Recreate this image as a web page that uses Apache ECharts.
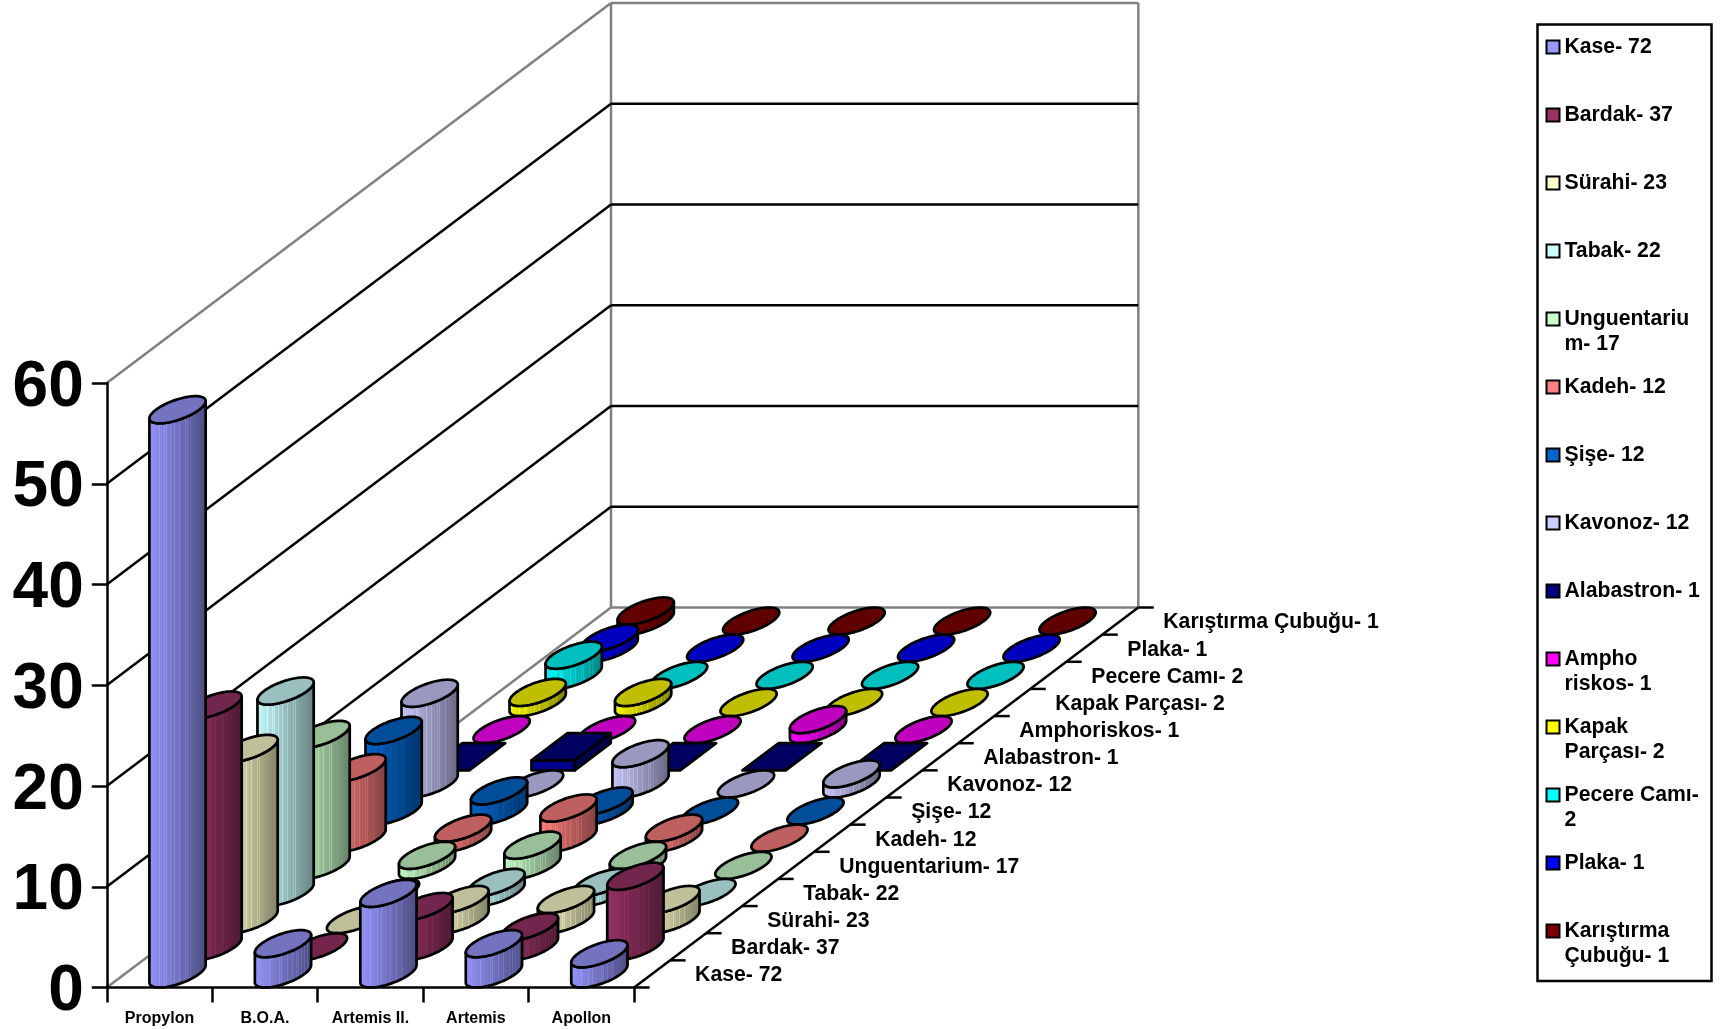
<!DOCTYPE html>
<html>
<head>
<meta charset="utf-8">
<style>html,body{margin:0;padding:0;background:#fff}#c{width:1726px;height:1029px}</style>
<script src="https://cdn.jsdelivr.net/npm/echarts@6/dist/echarts.min.js"></script>
</head>
<body>
<div id="c"></div>
<script>
// ---- data ----
const sites = ['Propylon', 'B.O.A.', 'Artemis II.', 'Artemis', 'Apollon'];
const yTicks = [0, 10, 20, 30, 40, 50, 60];
const kase = [56, 3, 8, 3, 2];
const bardak = [24, 0, 4, 2, 7];
const surahi = [17, 0, 2, 2, 2];
const tabak = [20, 0, 1, 1, 0];
const unguentarium = [13, 1, 2, 1, 0];
const kadeh = [7, 1, 3, 1, 0];
const sise = [8, 2, 1, 0, 0];
const kavonoz = [9, 0, 3, 0, 1];
const alabastron = [0, 1, 0, 0, 0];
const amphoriskos = [0, 0, 0, 1, 0];
const kapak = [1, 1, 0, 0, 0];
const pecere = [2, 0, 0, 0, 0];
const plaka = [1, 0, 0, 0, 0];
const karistirma = [1, 0, 0, 0, 0];
const seriesNames = ['Kase- 72', 'Bardak- 37', 'Sürahi- 23', 'Tabak- 22', 'Unguentarium- 17', 'Kadeh- 12', 'Şişe- 12', 'Kavonoz- 12', 'Alabastron- 1', 'Amphoriskos- 1', 'Kapak Parçası- 2', 'Pecere Camı- 2', 'Plaka- 1', 'Karıştırma Çubuğu- 1'];
const legendLines = ['Kase- 72', 'Bardak- 37', 'Sürahi- 23', 'Tabak- 22', 'Unguentariu\nm- 17', 'Kadeh- 12', 'Şişe- 12', 'Kavonoz- 12', 'Alabastron- 1', 'Ampho\nriskos- 1', 'Kapak\nParçası- 2', 'Pecere Camı-\n2', 'Plaka- 1', 'Karıştırma\nÇubuğu- 1'];
const seriesValues = [kase, bardak, surahi, tabak, unguentarium, kadeh, sise, kavonoz, alabastron, amphoriskos, kapak, pecere, plaka, karistirma];
const seriesColors = ['#9999FF', '#993366', '#FFFFCC', '#CCFFFF', '#CCFFCC', '#FF8080', '#0066CC', '#CCCCFF', '#000080', '#FF00FF', '#FFFF00', '#00FFFF', '#0000FF', '#800000'];

// ---- oblique projection of the depth axis ----
const DEPTH_X = 504.2, DEPTH_Y = -380;
const N = seriesNames.length;
const STEP_X = DEPTH_X / N, STEP_Y = DEPTH_Y / N;
const FONT = '"Liberation Sans", Arial, Helvetica, sans-serif';
const LW = 2.7;

function shade(hex, f) {
  const n = parseInt(hex.slice(1), 16);
  const ch = s => Math.max(0, Math.min(255, Math.round(((n >> s) & 255) * f)));
  return 'rgb(' + ch(16) + ',' + ch(8) + ',' + ch(0) + ')';
}
// side shading: light at the left, dark at the right, with thin pale streaks
const streaks = [0.19, 0.27, 0.31, 0.38, 0.44, 0.47, 0.53, 0.57, 0.63, 0.66, 0.72, 0.76, 0.81, 0.86, 0.91];
function sideFill(hex) {
  const stops = [];
  const f = t => 0.98 - 0.48 * t;
  stops.push({ offset: 0, color: shade(hex, f(0)) });
  streaks.forEach(p => {
    stops.push({ offset: p - 0.001, color: shade(hex, f(p)) });
    stops.push({ offset: p, color: shade(hex, f(p) + 0.1) });
    stops.push({ offset: p + 0.009, color: shade(hex, f(p) + 0.1) });
    stops.push({ offset: p + 0.01, color: shade(hex, f(p + 0.01)) });
  });
  stops.push({ offset: 1, color: shade(hex, f(1)) });
  return { type: 'linear', x: 0, y: 0, x2: 1, y2: 0, colorStops: stops };
}

function cylinderItem(s, color) {
  return function (params, api) {
    const c = api.value(0), v = api.value(1);
    const base = api.coord([c, 0]), top = api.coord([c, v]);
    const ox = STEP_X * (s + 0.5), oy = STEP_Y * (s + 0.5);
    const cx = base[0] + ox, yb = base[1] + oy, yt = top[1] + oy;
    const A = api.size([1, 0])[0] * 0.205, Bx = STEP_X / 2, By = -STEP_Y / 2;
    const stroke = { stroke: '#000', lineWidth: LW, lineJoin: 'round' };
    const children = [];
    const style = f => Object.assign({ fill: f }, stroke);
    if (s === 8) { // Alabastron is drawn as a box in the reference
      const fl = cx - A - Bx, fr = cx + A - Bx, bl = cx - A + Bx, br = cx + A + Bx;
      if (v > 0) {
        children.push({ type: 'polygon', shape: { points: [[fl, yb + By], [fr, yb + By], [fr, yt + By], [fl, yt + By]] }, style: style(shade(color, 1.1)) });
        children.push({ type: 'polygon', shape: { points: [[fr, yb + By], [br, yb - By], [br, yt - By], [fr, yt + By]] }, style: style(shade(color, 0.6)) });
      }
      children.push({ type: 'polygon', shape: { points: [[fl, yt + By], [fr, yt + By], [br, yt - By], [bl, yt - By]] }, style: style(shade(color, 0.75)) });
      return { type: 'group', children };
    }
    const t0 = Math.atan2(Bx, A);
    const pt = (t, y) => [cx + A * Math.cos(t) + Bx * Math.sin(t), y - By * Math.sin(t)];
    if (v > 0) {
      const pts = [];
      for (let i = 0; i <= 30; i++) pts.push(pt(t0 + Math.PI + Math.PI * i / 30, yb));
      for (let i = 30; i >= 0; i--) pts.push(pt(t0 + Math.PI + Math.PI * i / 30, yt));
      children.push({ type: 'polygon', shape: { points: pts }, style: style(sideFill(color)) });
    }
    const ell = [];
    for (let i = 0; i < 64; i++) ell.push(pt(2 * Math.PI * i / 64, yt));
    children.push({ type: 'polygon', shape: { points: ell }, style: style(shade(color, 0.75)) });
    return { type: 'group', children };
  };
}

function wallItem(params, api) {
  const v = api.value(0);
  const a = api.coord([0, v]);
  const halfBand = api.size([1, 0])[0] / 2;
  const x0 = a[0] - halfBand, y = a[1];
  const x1 = api.coord([sites.length - 1, v])[0] + halfBand;
  const edge = v === yTicks[0] || v === yTicks[yTicks.length - 1];
  const color = edge ? '#808080' : '#000';
  const st = { stroke: color, lineWidth: 2.5 };
  const children = [
    { type: 'line', shape: { x1: x0, y1: y, x2: x0 + DEPTH_X, y2: y + DEPTH_Y }, style: st },
    { type: 'line', shape: { x1: x0 + DEPTH_X, y1: y + DEPTH_Y, x2: x1 + DEPTH_X, y2: y + DEPTH_Y }, style: st }
  ];
  if (v === yTicks[0]) {
    const topY = api.coord([0, yTicks[yTicks.length - 1]])[1] + DEPTH_Y;
    const g = { stroke: '#808080', lineWidth: 2.5 };
    children.push({ type: 'line', shape: { x1: x0 + DEPTH_X, y1: y + DEPTH_Y, x2: x0 + DEPTH_X, y2: topY }, style: g });
    children.push({ type: 'line', shape: { x1: x1 + DEPTH_X, y1: y + DEPTH_Y, x2: x1 + DEPTH_X, y2: topY }, style: g });
  }
  return { type: 'group', children };
}

function depthAxisItem(params, api) {
  const s = api.value(0);
  const last = sites.length - 1;
  const r = api.coord([last, 0]);
  const x = r[0] + api.size([1, 0])[0] / 2, y = r[1];
  const st = { stroke: '#000', lineWidth: 2.5 };
  const children = [];
  const tick = k => ({ type: 'line', shape: { x1: x + STEP_X * k, y1: y + STEP_Y * k, x2: x + STEP_X * k + 15.5, y2: y + STEP_Y * k }, style: st });
  children.push(tick(s));
  if (s === N - 1) {
    children.push(tick(N));
    children.push({ type: 'line', shape: { x1: x, y1: y, x2: x + DEPTH_X, y2: y + DEPTH_Y }, style: st });
  }
  children.push({
    type: 'text',
    x: x + STEP_X * (s + 0.5) + 43,
    y: y + STEP_Y * (s + 0.5) + 1.5,
    style: { text: seriesNames[s], fill: '#000', font: 'bold 21.2px ' + FONT, textAlign: 'left', textVerticalAlign: 'middle' }
  });
  return { type: 'group', children };
}

const barSeries = [];
for (let s = N - 1; s >= 0; s--) {
  barSeries.push({
    type: 'custom',
    name: seriesNames[s],
    coordinateSystem: 'cartesian2d',
    renderItem: cylinderItem(s, seriesColors[s]),
    itemStyle: { color: seriesColors[s] },
    data: seriesValues[s].map((v, c) => [c, v]),
    encode: { x: 0, y: 1 },
    clip: false,
    silent: true,
    z: 5
  });
}

const option = {
  animation: false,
  backgroundColor: '#fff',
  textStyle: { fontFamily: FONT },
  grid: { left: 106.8, top: 383, width: 527.3, height: 604.5, containLabel: false },
  xAxis: {
    type: 'category',
    data: sites,
    z: 10,
    axisLine: { show: true, lineStyle: { color: '#000', width: 2.7 } },
    axisTick: { show: true, inside: false, length: 15, alignWithLabel: false, lineStyle: { color: '#000', width: 2.5 } },
    axisLabel: { color: '#000', fontWeight: 'bold', fontSize: 16, fontFamily: FONT, margin: 23, interval: 0 }
  },
  yAxis: {
    type: 'value',
    min: 0,
    max: 60,
    interval: 10,
    z: 3,
    axisLine: { show: true, lineStyle: { color: '#000', width: 2.5 } },
    axisTick: { show: true, inside: false, length: 15, lineStyle: { color: '#000', width: 2.5 } },
    splitLine: { show: false },
    axisLabel: {
      color: '#000', fontWeight: 'bold', fontSize: 64, fontFamily: FONT, margin: 23,
      formatter: '{big|{value}}',
      rich: { big: { color: '#000', fontWeight: 'bold', fontSize: 64, fontFamily: FONT, padding: [10, 0, 0, 0] } }
    }
  },
  legend: {
    orient: 'vertical',
    left: 1539.5,
    top: 9.5,
    padding: [0, 0, 0, 6],
    icon: 'rect',
    itemWidth: 13,
    itemHeight: 13,
    itemGap: -7,
    selectedMode: false,
    data: seriesNames,
    itemStyle: { borderColor: '#000', borderWidth: 2 },
    textStyle: { color: '#000', fontWeight: 'bold', fontSize: 21.2, lineHeight: 25, fontFamily: FONT, padding: [0, 0, 0, 0] },
    formatter: function (name) {
      const lines = legendLines[seriesNames.indexOf(name)];
      return '\u00a0\n' + lines + (lines.indexOf('\n') < 0 ? '\n\u00a0' : '');
    },
    z: 20
  },
  graphic: [{
    type: 'rect',
    z: 1,
    silent: true,
    shape: { x: 1537.5, y: 24.5, width: 174, height: 956.5 },
    style: { fill: '#fff', stroke: '#000', lineWidth: 2.5 }
  }],
  series: [
    {
      type: 'custom', name: 'walls', coordinateSystem: 'cartesian2d', renderItem: wallItem,
      data: yTicks.map(v => [v]), encode: { y: 0 }, clip: false, silent: true, z: 1
    },
    {
      type: 'custom', name: 'depth axis', coordinateSystem: 'cartesian2d', renderItem: depthAxisItem,
      data: seriesNames.map((n, i) => [i]), clip: false, silent: true, z: 4
    }
  ].concat(barSeries)
};

const chart = echarts.init(document.getElementById('c'), null, { renderer: 'canvas' });
chart.setOption(option);
</script>
</body>
</html>
